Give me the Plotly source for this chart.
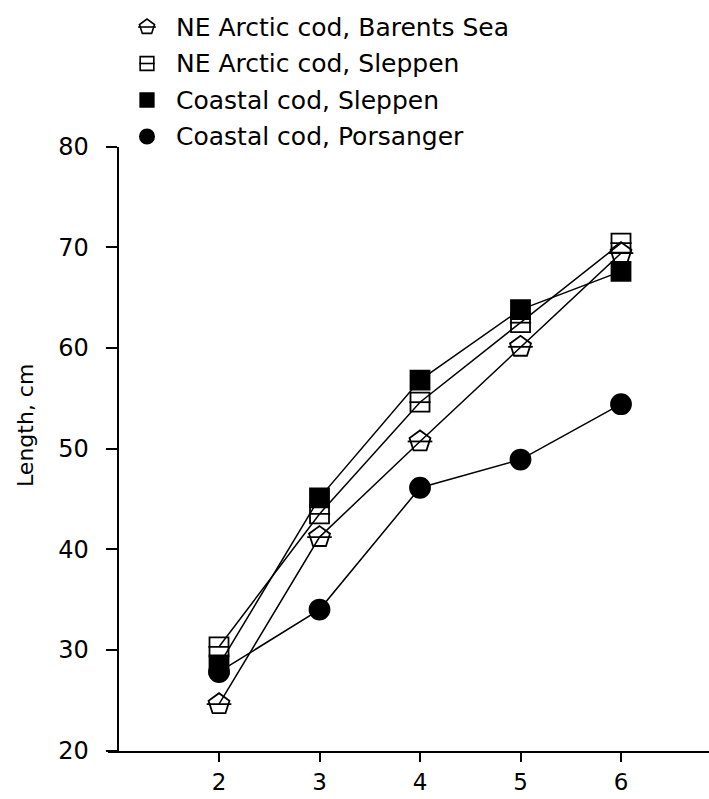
import plotly.graph_objects as go

# Mean length at age (cm) of cod groups
ages = [2, 3, 4, 5, 6]
barents_sea = [24.6, 41.2, 50.7, 60.1, 69.4]
ne_sleppen = [30.3, 43.5, 54.6, 62.5, 70.4]
coastal_sleppen = [28.5, 45.1, 56.8, 63.8, 67.6]
coastal_porsanger = [27.8, 34.0, 46.1, 48.9, 54.4]

series_names = [
    "NE Arctic cod, Barents Sea",
    "NE Arctic cod, Sleppen",
    "Coastal cod, Sleppen",
    "Coastal cod, Porsanger",
]
series_values = [barents_sea, ne_sleppen, coastal_sleppen, coastal_porsanger]

x_ticks = [2, 3, 4, 5, 6]
y_ticks = [20, 30, 40, 50, 60, 70, 80]
y_title = "Length, cm"

# marker styling per series: (symbol, size, inner bar?)
styles = [
    ("pentagon-open", 22, True),
    ("square-open", 19, True),
    ("square", 19, False),
    ("circle", 20, False),
]

W, H = 709, 799
FONT = "DejaVu Sans"
INK = "black"

# plot geometry in pixels
yaxis_px = 117.5
xaxis_start_px = 107.5
bottom_px = 750.5
top_px = 146.5
px_per_age = 100.5
x_lo = 0.99 - (yaxis_px - xaxis_start_px) / px_per_age
x_hi = x_lo + (W - xaxis_start_px) / px_per_age

fig = go.Figure()

for name, vals, (sym, size, bar) in zip(series_names, series_values, styles):
    fig.add_trace(go.Scatter(
        x=ages, y=vals, mode="lines+markers", name=name, showlegend=False,
        line=dict(color=INK, width=1.5),
        marker=dict(symbol=sym, size=size, color=INK,
                    line=dict(color=INK, width=1.8)),
        xaxis="x", yaxis="y",
    ))
    if bar:
        fig.add_trace(go.Scatter(
            x=ages, y=vals, mode="markers", showlegend=False, hoverinfo="skip",
            marker=dict(symbol="line-ew", size=size * 0.8,
                        line=dict(color=INK, width=1.8)),
            xaxis="x", yaxis="y",
        ))

# key drawn in a pixel-space overlay
key_x = 147
key_text_x = 174
key_rows = [27 + 36.5 * i for i in range(len(series_names))]
for (sym, size, bar), row in zip(styles, key_rows):
    s = size * 0.72
    fig.add_trace(go.Scatter(
        x=[key_x], y=[row], mode="markers", showlegend=False, hoverinfo="skip",
        marker=dict(symbol=sym, size=s, color=INK, line=dict(color=INK, width=1.6)),
        xaxis="x2", yaxis="y2", cliponaxis=False,
    ))
    if bar:
        fig.add_trace(go.Scatter(
            x=[key_x], y=[row], mode="markers", showlegend=False, hoverinfo="skip",
            marker=dict(symbol="line-ew", size=s * 0.8, line=dict(color=INK, width=1.6)),
            xaxis="x2", yaxis="y2", cliponaxis=False,
        ))

annotations = [
    dict(x=key_text_x, y=row, xref="x2", yref="y2", text=name, showarrow=False,
         xanchor="left", yanchor="middle", font=dict(family=FONT, size=25, color=INK))
    for name, row in zip(series_names, key_rows)
]
annotations.append(dict(
    x=25 / W, y=1 - 426 / H, xref="paper", yref="paper", text=y_title,
    showarrow=False, textangle=-90, xanchor="center", yanchor="middle",
    font=dict(family=FONT, size=22, color=INK),
))

fig.update_layout(
    width=W, height=H,
    margin=dict(l=0, r=0, t=0, b=0, pad=0, autoexpand=False),
    paper_bgcolor="white", plot_bgcolor="rgba(0,0,0,0)",
    showlegend=False,
    annotations=annotations,
    xaxis=dict(
        domain=[xaxis_start_px / W, 1], range=[x_lo, x_hi],
        tickmode="array", tickvals=x_ticks, ticktext=[str(t) for t in x_ticks],
        ticks="outside", ticklen=10, tickwidth=1.5, tickcolor=INK,
        showline=True, linecolor=INK, linewidth=1.8,
        showgrid=False, zeroline=False, automargin=False,
        tickfont=dict(family=FONT, size=23, color=INK),
        ticklabelstandoff=0,
        anchor="y",
    ),
    yaxis=dict(
        domain=[1 - bottom_px / H, 1 - top_px / H], range=[20, 80],
        tickmode="array", tickvals=y_ticks, ticktext=[str(t) for t in y_ticks],
        ticks="outside", ticklen=11, tickwidth=1.5, tickcolor=INK,
        showline=True, linecolor=INK, linewidth=1.8,
        showgrid=False, zeroline=False, automargin=False,
        tickfont=dict(family=FONT, size=24, color=INK),
        ticklabelstandoff=12,
        anchor="free", position=yaxis_px / W,
    ),
    xaxis2=dict(domain=[0, 1], range=[0, W], visible=False, anchor="y2",
                automargin=False),
    yaxis2=dict(domain=[0, 1], range=[H, 0], visible=False, anchor="x2",
                automargin=False),
)

fig.write_html("out.html")
